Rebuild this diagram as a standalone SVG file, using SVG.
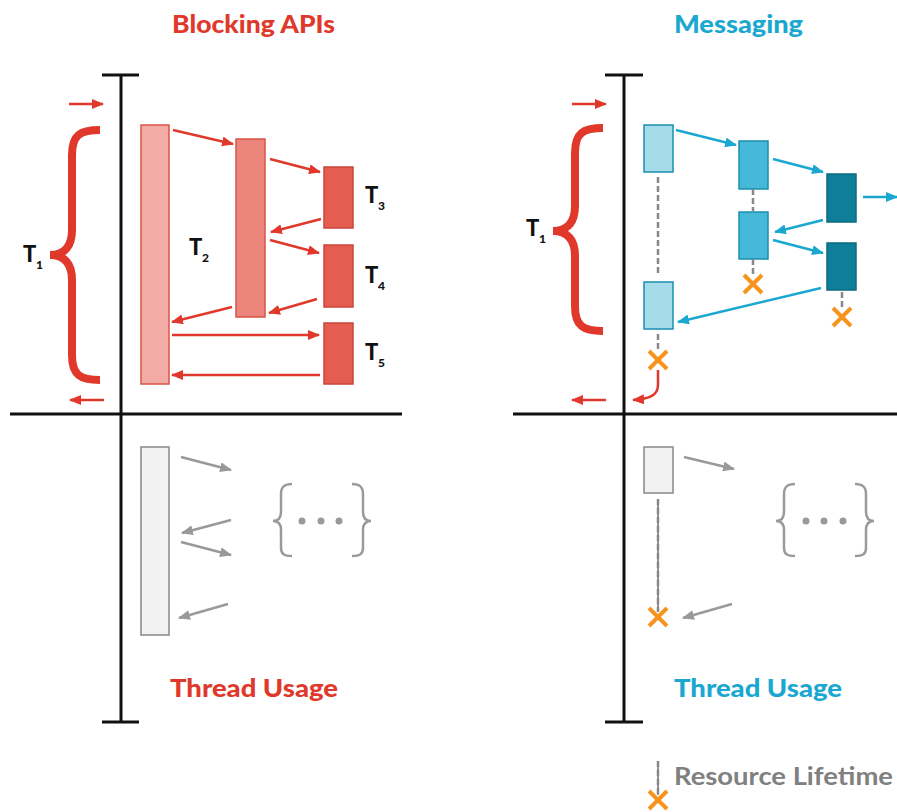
<svg xmlns="http://www.w3.org/2000/svg" width="897" height="812" viewBox="0 0 897 812">
<style>
text{font-family:Lato,"Liberation Sans",sans-serif;font-weight:bold}
.title{font-size:24px;font-weight:900}
.red{fill:#e0392b}
.blue{fill:#1aa7d0}
.lbl{font-size:22px;fill:#111;font-weight:900}
.sub{font-size:12px;fill:#111;font-weight:900}
.axis{stroke:#111;stroke-width:3;fill:none}
.ra{stroke:#e0392b;stroke-width:2.5;fill:none;marker-end:url(#mr)}
.ba{stroke:#1aa7d0;stroke-width:2.5;fill:none;marker-end:url(#mb)}
.ga{stroke:#999;stroke-width:2.5;fill:none;marker-end:url(#mg)}
.brace{stroke:#e0392b;stroke-width:8;fill:none}
.gbrace{stroke:#9a9a9a;stroke-width:2.5;fill:none}
.dash{stroke:#888;stroke-width:2.5;stroke-dasharray:6 3;fill:none}
.dashk{stroke:#222;stroke-width:1;fill:none}
.x{stroke:#f7941d;stroke-width:4;fill:none}
.t1{fill:#f3aca5;stroke:#d9544a;stroke-width:1.5}
.t2{fill:#ec857b;stroke:#d9544a;stroke-width:1.5}
.t3{fill:#e45d50;stroke:#c9453a;stroke-width:1.5}
.ma{fill:#a6dcea;stroke:#1a8fb0;stroke-width:1.5}
.mb{fill:#47b9d8;stroke:#1a8fb0;stroke-width:1.5}
.mc{fill:#0f7f99;stroke:#0b6a80;stroke-width:1.5}
.gr{fill:#f2f2f2;stroke:#888;stroke-width:1.5}
</style>
<defs>
<marker id="mr" viewBox="0 0 12 10" refX="11" refY="5" markerWidth="12" markerHeight="10" markerUnits="userSpaceOnUse" orient="auto"><path d="M0,0 L12,5 L0,10 z" fill="#e0392b"/></marker>
<marker id="mb" viewBox="0 0 12 10" refX="11" refY="5" markerWidth="12" markerHeight="10" markerUnits="userSpaceOnUse" orient="auto"><path d="M0,0 L12,5 L0,10 z" fill="#1aa7d0"/></marker>
<marker id="mg" viewBox="0 0 12 10" refX="11" refY="5" markerWidth="12" markerHeight="10" markerUnits="userSpaceOnUse" orient="auto"><path d="M0,0 L12,5 L0,10 z" fill="#999"/></marker>
</defs>
<rect width="897" height="812" fill="#fff"/>

<!-- titles -->
<text class="title red" x="253.5" y="33" text-anchor="middle" textLength="163" lengthAdjust="spacingAndGlyphs">Blocking APIs</text>
<text class="title blue" x="738.5" y="33" text-anchor="middle" textLength="129" lengthAdjust="spacingAndGlyphs">Messaging</text>
<text class="title red" x="254" y="697" text-anchor="middle" textLength="168" lengthAdjust="spacingAndGlyphs">Thread Usage</text>
<text class="title blue" x="758" y="697" text-anchor="middle" textLength="168" lengthAdjust="spacingAndGlyphs">Thread Usage</text>

<!-- axes -->
<g id="axes">
<path class="axis" d="M102,75 H139 M121,75 V722 M102,722 H139 M10,414 H402"/>
<path class="axis" d="M605,75 H643 M624,75 V722 M605,722 H643 M513,414 H897"/>
</g>

<!-- braces -->
<g id="brace-left">
<path class="brace" d="M100,130 C80,130 72,135 72,155 L72,230 C72,246 65,255 50,255 C65,255 72,264 72,280 L72,355 C72,375 80,380 100,380"/>
<text class="lbl" x="23" y="262">T</text><text class="sub" x="36" y="269">1</text>
</g>
<g id="brace-right">
<path class="brace" d="M603,128 C583,128 575,133 575,153 L575,206 C575,222 568,231 553,231 C568,231 575,240 575,256 L575,306 C575,326 583,331 603,331"/>
<text class="lbl" x="526" y="236">T</text><text class="sub" x="539" y="243">1</text>
</g>

<!-- left nodes -->
<g id="bt1"><rect class="t1" x="141" y="125" width="28" height="259"/></g>
<g id="bt2"><rect class="t2" x="236" y="139" width="29" height="178"/>
<text class="lbl" x="189" y="255">T</text><text class="sub" x="202" y="262">2</text></g>
<g id="bt3"><rect class="t3" x="324" y="167" width="29" height="61"/>
<text class="lbl" x="365" y="203">T</text><text class="sub" x="378" y="210">3</text></g>
<g id="bt4"><rect class="t3" x="324" y="245" width="29" height="62"/>
<text class="lbl" x="365" y="283">T</text><text class="sub" x="378" y="290">4</text></g>
<g id="bt5"><rect class="t3" x="324" y="323" width="29" height="61"/>
<text class="lbl" x="365" y="360">T</text><text class="sub" x="378" y="367">5</text></g>

<!-- right nodes -->
<g id="ma1"><rect class="ma" x="644" y="125" width="29" height="47"/></g>
<g id="ma2"><rect class="ma" x="644" y="282" width="29" height="47"/></g>
<g id="mb1"><rect class="mb" x="739" y="141" width="29" height="48"/></g>
<g id="mb2"><rect class="mb" x="739" y="212" width="29" height="47"/></g>
<g id="mc1"><rect class="mc" x="827" y="174" width="29" height="48"/></g>
<g id="mc2"><rect class="mc" x="827" y="243" width="29" height="47"/></g>

<!-- bottom nodes -->
<g id="gl"><rect class="gr" x="141" y="447" width="28" height="188"/></g>
<g id="gr"><rect class="gr" x="644" y="447" width="29" height="46"/></g>
<g id="etc-left">
<path class="gbrace" d="M292,484 C284,484 281,487 281,494 L281,512 C281,518 278,521 273,521 C278,521 281,524 281,530 L281,548 C281,554 284,556 292,556"/>
<circle cx="302" cy="521" r="3.5" fill="#9a9a9a"/><circle cx="321" cy="521" r="3.5" fill="#9a9a9a"/><circle cx="339" cy="521" r="3.5" fill="#9a9a9a"/>
<path class="gbrace" d="M352,484 C360,484 363,487 363,494 L363,512 C363,518 366,521 371,521 C366,521 363,524 363,530 L363,548 C363,554 360,556 352,556"/>
</g>
<g id="etc-right">
<path class="gbrace" d="M795,484 C787,484 784,487 784,494 L784,512 C784,518 781,521 776,521 C781,521 784,524 784,530 L784,548 C784,554 787,556 795,556"/>
<circle cx="806" cy="521" r="3.5" fill="#9a9a9a"/><circle cx="824" cy="521" r="3.5" fill="#9a9a9a"/><circle cx="843" cy="521" r="3.5" fill="#9a9a9a"/>
<path class="gbrace" d="M855,484 C863,484 866,487 866,494 L866,512 C866,518 869,521 874,521 C869,521 866,524 866,530 L866,548 C866,554 863,556 855,556"/>
</g>

<!-- lifetimes -->
<g id="lifetimes">
<path class="dash" d="M658,177 V275 M658,334 V352 M753,189 V211 M753,259 V276 M842,292 V310"/>
<path class="dashk" d="M658,499 V612"/>
<path class="dash" d="M658,499 V612"/>
<path class="x" d="M649,351 L667,369 M667,351 L649,369"/>
<path class="x" d="M744,275 L762,293 M762,275 L744,293"/>
<path class="x" d="M833,308 L851,326 M851,308 L833,326"/>
<path class="x" d="M649,608 L667,626 M667,608 L649,626"/>
</g>

<!-- connectors -->
<g id="connectors">
<path class="ra" d="M69,104 H103"/>
<path class="ra" d="M104,400 H70"/>
<path class="ra" d="M572,104 H606"/>
<path class="ra" d="M606,400 H572"/>
<path class="ra" d="M173,130 L233,144"/>
<path class="ra" d="M270,159 L320,172"/>
<path class="ra" d="M321,219 L271,232"/>
<path class="ra" d="M270,240 L319,253"/>
<path class="ra" d="M317,299 L269,313"/>
<path class="ra" d="M232,307 L172,322"/>
<path class="ra" d="M172,335 H319"/>
<path class="ra" d="M320,375 H172"/>
<path class="ra" d="M658,370 V385 C658,395 650,399 633,400"/>
<path class="ba" d="M676,130 L736,145"/>
<path class="ba" d="M773,159 L823,172"/>
<path class="ba" d="M863,197 H897"/>
<path class="ba" d="M823,220 L775,232"/>
<path class="ba" d="M773,240 L823,253"/>
<path class="ba" d="M821,288 L678,322"/>
<path class="ga" d="M181,457 L231,470"/>
<path class="ga" d="M231,520 L182,533"/>
<path class="ga" d="M181,542 L231,555"/>
<path class="ga" d="M228,604 L179,618"/>
<path class="ga" d="M684,457 L734,469"/>
<path class="ga" d="M732,604 L683,618"/>
</g>

<!-- legend -->
<g id="legend">
<path class="dashk" d="M658,761 V795"/>
<path class="dash" d="M658,761 V795"/>
<path class="x" d="M649,791 L667,809 M667,791 L649,809"/>
<text x="674" y="785" font-size="24" font-weight="900" fill="#808080" textLength="219" lengthAdjust="spacingAndGlyphs">Resource Lifetime</text>
</g>
</svg>
